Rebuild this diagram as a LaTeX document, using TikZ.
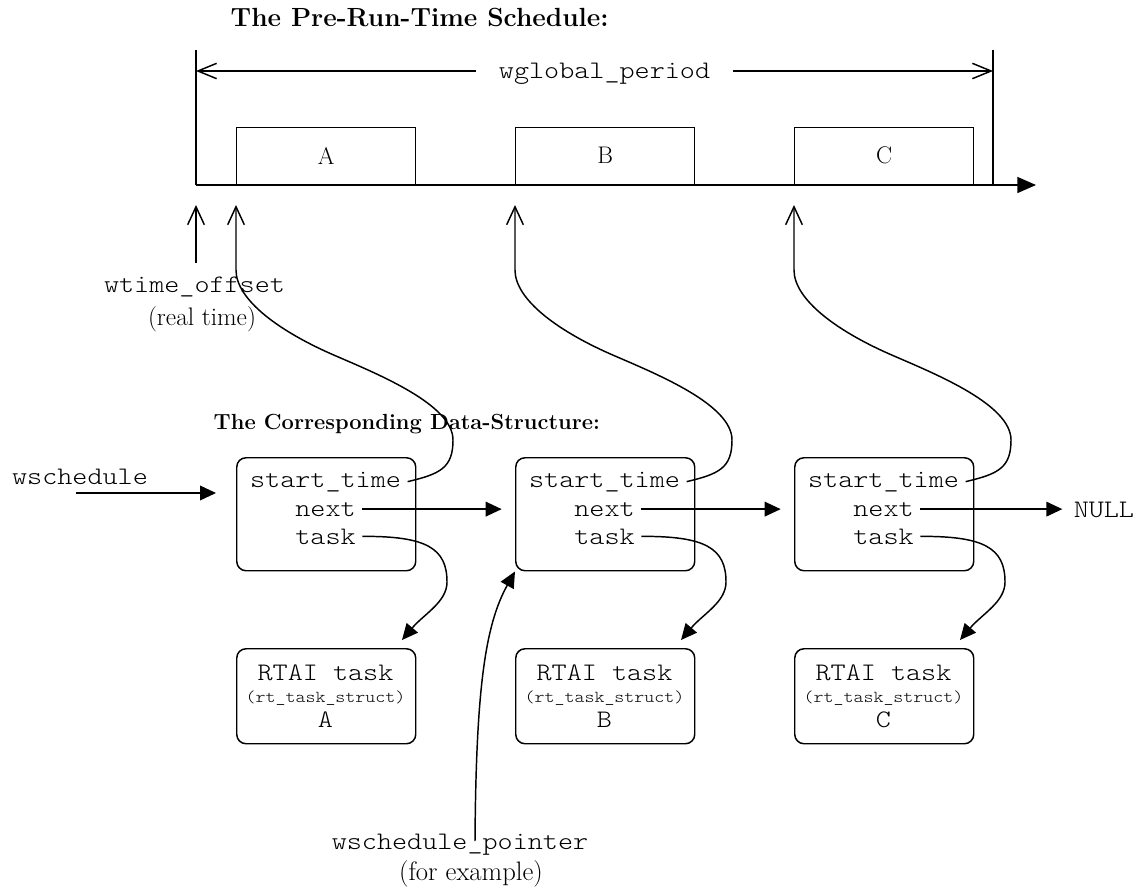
\documentclass[tikz,border=0pt]{standalone}
\usepackage{fontspec}
\setmonofont[FakeStretch=1.14]{lmmonolt10-regular.otf}
\usetikzlibrary{arrows.meta}
\begin{document}
\begin{tikzpicture}[x=0.75pt,y=-0.75pt,
  line width=1.1pt,
  tt/.style={font=\fontsize{18.9}{22}\selectfont\ttfamily, inner sep=0pt},
  ttsmall/.style={font=\fontsize{12.5}{15}\selectfont\ttfamily, inner sep=0pt},
  rmtext/.style={font=\fontsize{18}{22}\selectfont, inner sep=0pt},
  heading/.style={font=\bfseries, anchor=base west, inner sep=0pt},
  field/.style={tt, anchor=base, inner xsep=4.5pt},
  slot/.style={draw, rmtext, minimum width=134.25pt, minimum height=42.75pt, anchor=south west},
  record/.style={draw, rounded corners=7pt, minimum width=134.25pt, minimum height=84.75pt, anchor=north west},
  taskbox/.style={draw, rounded corners=7pt, minimum width=134.25pt, minimum height=71.25pt, anchor=north west},
  solidtip/.style={-{Triangle[length=12pt,width=11pt]}},
  opentip/.style={-{Straight Barb[length=13.5pt,width=12.5pt]}},
]
\useasboundingbox (0,0) rectangle (1137,888);

% headings
\node[heading, font=\fontsize{19.7}{24}\selectfont\bfseries] (title1) at (230,27) {The Pre-Run-Time Schedule:};
\node[heading, font=\fontsize{16.4}{20}\selectfont\bfseries] (title2) at (213,429) {The Corresponding Data-Structure:};

% time axis and global period
\coordinate (T0) at (196,185);
\coordinate (T1) at (1036,185);
\coordinate (E0) at (196,50);
\coordinate (E1) at (993,50);
\coordinate (E1b) at (993,185);
\coordinate (pL) at (196,71);
\coordinate (pR) at (993,71);
\draw (E0) -- (T0);
\draw (E1) -- (E1b);
\draw[-{Triangle[length=14pt,width=12pt]}] (T0) -- (T1);
\node[tt, anchor=base, inner xsep=16.5pt] (wgp) at (604.5,79) {wglobal\_period};
\draw[-{Straight Barb[length=14pt,width=11.5pt]}] (wgp.west |- pL) -- (pL);
\draw[-{Straight Barb[length=14pt,width=11.5pt]}] (wgp.east |- pR) -- (pR);

% time offset
\coordinate (w0) at (196,263);
\coordinate (w1) at (196,205);
\draw[opentip] (w0) -- (w1);
\node[tt, anchor=base] (wto) at (194.5,292) {wtime\_offset};
\node[rmtext, font=\fontsize{19}{23}\selectfont, anchor=base] (rt) at (202,325) {(real time)};

% slots, schedule records and task structures
\foreach \i/\L/\lbl in {1/236/A,2/515/B,3/794/C} {
  \node[slot] (slot\i) at (\L,185) {\lbl};
  \node[record] (d\i) at (\L,457) {};
  \node[field] (s\i) at (\L+89.5,487) {start\_time};
  \node[field] (n\i) at (\L+89.5,516) {next};
  \node[field] (t\i) at (\L+89.5,544) {task};
  \node[taskbox] (r\i) at (\L,648) {};
  \node[tt, anchor=base] (rn\i) at (\L+89.5,680) {RTAI task};
  \node[ttsmall, anchor=base] (rs\i) at (\L+89.5,702) {(rt\_task\_struct)};
  \node[tt, anchor=base] (rl\i) at (\L+89.5,727) {\lbl};
  \coordinate (a\i) at (\L,205);
  \coordinate (tk\i) at (\L+166,640);
  \draw[opentip] (s\i.east) .. controls (\L+204,474) and (\L+217,468) .. (\L+217,440)
     .. controls (\L+217,405) and (\L+144,375) .. (\L+100,356)
     .. controls (\L+44,332) and (\L,300) .. (\L,270) -- (a\i);
  \draw[solidtip] (t\i.east) .. controls (\L+190,536) and (\L+211,548) .. (\L+211,582)
     .. controls (\L+211,602) and (\L+188,614) .. (tk\i);
}

% list links
\node[tt, anchor=base west] (null) at (1073,517) {NULL};
\draw[solidtip, shorten >=10pt] (n1.east) -- (n1.east -| d2.west);
\draw[solidtip, shorten >=10pt] (n2.east) -- (n2.east -| d3.west);
\draw[solidtip, shorten >=8pt] (n3.east) -- (n3.east -| null.west);

% list head
\node[tt, anchor=base] (ws) at (80,484) {wschedule};
\coordinate (ws0) at (76,493);
\draw[solidtip, shorten >=15pt] (ws0) -- (ws0 -| d1.west);

% current position pointer
\node[tt, anchor=base] (wsp) at (460,849) {wschedule\_pointer};
\node[rmtext, font=\fontsize{20}{24}\selectfont, anchor=base] (ex) at (471,880) {(for example)};
\coordinate (p0) at (475,841);
\draw[solidtip] (p0) .. controls (476,690) and (485,625) .. (d2.south west);
\end{tikzpicture}
\end{document}
